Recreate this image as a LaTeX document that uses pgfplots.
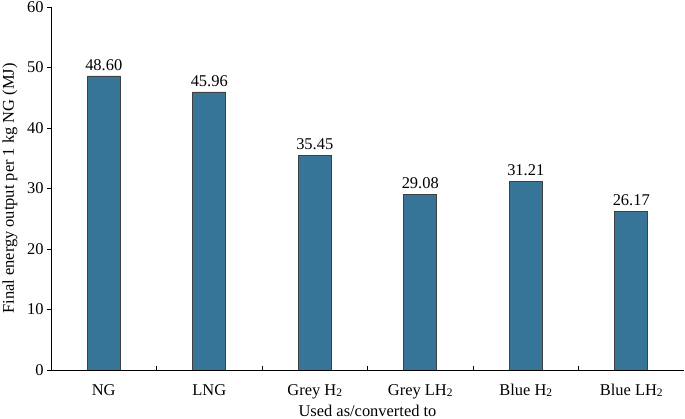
\documentclass[border=0pt]{standalone}
\usepackage{pgfplots}
\pgfplotsset{compat=1.18}
\usepackage{fontspec}
\setmainfont{Liberation Serif}
\definecolor{barblue}{RGB}{54,117,151}
\newcommand{\two}{\raisebox{-0.6bp}{\fontsize{11.5}{12}\selectfont 2}}
\newcommand{\lblfont}{\fontsize{16.5}{18}\selectfont}

\begin{document}
\begin{tikzpicture}
\begin{axis}[
    scale only axis,
    width=633bp, height=363bp,
    xmin=-0.5, xmax=5.5,
    ymin=0, ymax=60,
    ytick={0,10,...,60},
    xtick={0,...,5},
    xticklabels={NG, LNG, Grey H\two, Grey LH\two, Blue H\two, Blue LH\two},
    minor xtick={0.5,1.5,...,4.5},
    axis x line*=bottom,
    axis y line*=left,
    tick align=outside,
    major tick length=4bp,
    minor tick length=4bp,
    major x tick style={draw=none},
    minor x tick style={yshift=4bp, black},
    y tick style={black},
    xticklabel style={anchor=base, yshift=-22bp},
    tick label style={font=\lblfont},
    label style={font=\lblfont},
    /pgf/number format/assume math mode=true,
    xlabel={Used as/converted to},
    ylabel={Final energy output per 1 kg NG (MJ)},
    xlabel style={at={(rel axis cs:0.5,0)}, anchor=center, yshift=-41bp},
    ylabel style={at={(rel axis cs:0,0.5)}, anchor=center, yshift=41bp},
    ybar,
    bar width=33bp,
    nodes near coords={\pgfmathprintnumber[fixed,fixed zerofill,precision=2]{\pgfplotspointmeta}},
    nodes near coords style={font=\lblfont, yshift=2bp},
]
\addplot[fill=barblue, draw=black!75, line width=0.6pt]
  coordinates {(0,48.60) (1,45.96) (2,35.45) (3,29.08) (4,31.21) (5,26.17)};
\coordinate (bl) at (rel axis cs:0,0);
\coordinate (tr) at (rel axis cs:1,1);
\end{axis}
\pgfresetboundingbox
\path[use as bounding box] ([shift={(-51bp,-49bp)}]bl) rectangle ([shift={(1bp,7bp)}]tr);
\end{tikzpicture}
\end{document}
